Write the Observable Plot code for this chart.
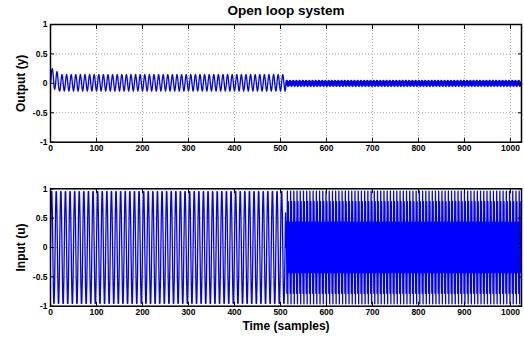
<!DOCTYPE html>
<html>
<head>
<meta charset="utf-8">
<script src="https://cdn.jsdelivr.net/npm/d3@7"></script>
<script src="https://cdn.jsdelivr.net/npm/@observablehq/plot@0.6"></script>
<style>
  body { margin: 0; background: #fff; }
  #fig { width: 524px; height: 338px; overflow: hidden; }
  #fig svg { display: block; }
</style>
</head>
<body>
<div id="fig"></div>
<script>
// Open-loop experiment: 1024 samples, excitation frequency switches at sample 512.
const nSamples = 1024;
const switchSample = 512;

// Output (y): start-up transient, then the steady response to each excitation.
const yStart = [0, 0.08, 0.17, 0.23, 0.25, 0.21, 0.12, 0.02, -0.07, -0.10,
                -0.08, -0.01, 0.08, 0.16, 0.20, 0.18, 0.10, 0.00, -0.08, -0.12];
const yCycleSlow = [-0.13, -0.10, -0.03, 0.05, 0.12, 0.15, 0.12, 0.05, -0.03, -0.10];
const yCycleFast = [0.02, 0.05, -0.03, 0.045, -0.05, 0.03, -0.045];

// Input (u): one period of each excitation signal.
const uCycleSlow = [0, 0.59, 0.95, 0.95, 0.59, 0, -0.59, -0.95, -0.95, -0.59];
const uCycleFast = [0, 0.43, -0.78, 0.96, -0.96, 0.78, -0.43];

// Axis ticks
const xTicks = [0, 100, 200, 300, 400, 500, 600, 700, 800, 900, 1000];
const yTicks = [-1, -0.5, 0, 0.5, 1];

// Assemble the sample sequences from the recorded periods.
const output = [];
const input = [];
for (let t = 0; t < nSamples; ++t) {
  let y, u;
  if (t < switchSample) {
    y = t < yStart.length ? yStart[t] : yCycleSlow[(t - yStart.length) % yCycleSlow.length];
    u = uCycleSlow[t % uCycleSlow.length];
  } else {
    y = yCycleFast[(t - switchSample) % yCycleFast.length];
    u = uCycleFast[(t - switchSample) % uCycleFast.length];
  }
  output.push({t, v: y});
  input.push({t, v: u});
}

const font = "'Liberation Sans', Arial, Helvetica, sans-serif";
const blank = () => "";
const plain = d => String(d);

function panel({data, ylabel, height, marginTop, marginBottom, extra = []}) {
  return Plot.plot({
    width: 524,
    height,
    marginLeft: 50,
    marginRight: 3,
    marginTop,
    marginBottom,
    x: {domain: [0, 1024]},
    y: {domain: [-1, 1]},
    style: {fontFamily: font, fontSize: "8.5px", fontWeight: "bold", color: "#000", background: "#fff", overflow: "visible"},
    marks: [
      Plot.gridX(xTicks, {stroke: "#a8a8a8", strokeOpacity: 1, strokeDasharray: "1,2"}),
      Plot.gridY(yTicks, {stroke: "#a8a8a8", strokeOpacity: 1, strokeDasharray: "1,2"}),
      Plot.line(data, {x: "t", y: "v", stroke: "#0000ff", strokeWidth: 1.3}),
      Plot.frame({stroke: "#000", strokeWidth: 1.5}),
      Plot.axisX(xTicks, {anchor: "bottom", tickSize: 0, tickPadding: 3, tickFormat: plain, label: null}),
      Plot.axisX(xTicks, {anchor: "bottom", tickSize: -4, tickFormat: blank, label: null}),
      Plot.axisX(xTicks, {anchor: "top", tickSize: -4, tickFormat: blank, label: null}),
      Plot.axisY(yTicks, {anchor: "left", tickSize: 0, tickPadding: 3, tickFormat: plain, label: null}),
      Plot.axisY(yTicks, {anchor: "left", tickSize: -4, tickFormat: blank, label: null}),
      Plot.axisY(yTicks, {anchor: "right", tickSize: -4, tickFormat: blank, label: null}),
      Plot.text([ylabel], {frameAnchor: "left", dx: -29, rotate: -90, text: d => d, fontSize: 12, fontWeight: "bold", lineAnchor: "middle", textAnchor: "middle", letterSpacing: "0.5px"}),
      ...extra
    ]
  });
}

const fig = document.getElementById("fig");

fig.appendChild(panel({
  data: output,
  ylabel: "Output (y)",
  height: 165,
  marginTop: 24,
  marginBottom: 23.3,
  extra: [
    Plot.text(["Open loop system"], {frameAnchor: "top", dy: -14, text: d => d, fontSize: 13.5, fontWeight: "bold", lineAnchor: "middle", textAnchor: "middle", letterSpacing: "0.6px"})
  ]
}));

fig.appendChild(panel({
  data: input,
  ylabel: "Input (u)",
  height: 173,
  marginTop: 23.3,
  marginBottom: 32.3,
  extra: [
    Plot.text(["Time (samples)"], {frameAnchor: "bottom", dy: 19.5, text: d => d, fontSize: 12, fontWeight: "bold", lineAnchor: "middle", textAnchor: "middle", letterSpacing: "0.4px"})
  ]
}));
</script>
</body>
</html>
